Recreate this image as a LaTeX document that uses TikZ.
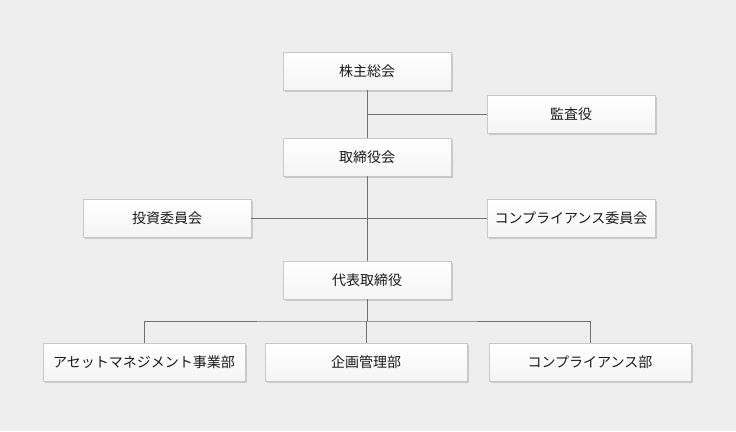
\documentclass[tikz,border=0pt]{standalone}
\usepackage{fontspec}
\setmainfont{Noto Sans CJK JP}
\usetikzlibrary{shadows}
\definecolor{bgGray}{HTML}{EEEEEE}
\definecolor{boxLine}{HTML}{C8C8C8}
\definecolor{linkGray}{HTML}{707070}
\definecolor{txtGray}{HTML}{1A1A1A}

\begin{document}
\begin{tikzpicture}[x = 1pt, y = -1pt, font=\fontsize{14}{16}\selectfont]
	\tikzstyle{boxStyle}=[shape = rectangle, minimum width = 168pt, minimum height = 38pt, inner sep = 2pt, draw = boxLine, top color = white, bottom color = bgGray!60, text = txtGray, drop shadow = {shadow xshift = 1.5pt, shadow yshift = -1.5pt, fill = black!30, opacity = 0.6}]
	\tikzstyle{wideStyle}=[boxStyle, minimum width = 202pt]
	\tikzstyle{linkStyle}=[draw = linkGray, line width = 0.7pt]
	\fill[bgGray] (0,0) rectangle (736,431);
	\useasboundingbox (0,0) rectangle (736,431);
	\node[boxStyle] (kabunushi) at (367,71) {株主総会};
	\node[boxStyle] (kansa) at (571,114) {監査役};
	\node[boxStyle] (torikai) at (367,157) {取締役会};
	\node[boxStyle] (toshi) at (167,218) {投資委員会};
	\node[boxStyle] (compiin) at (571,218) {コンプライアンス委員会};
	\node[boxStyle] (daihyo) at (367,280) {代表取締役};
	\node[wideStyle] (asset) at (144,362) {アセットマネジメント事業部};
	\node[wideStyle] (kikaku) at (366,362) {企画管理部};
	\node[wideStyle] (compbu) at (590,362) {コンプライアンス部};
	\coordinate (bus) at (367,321);
	\draw[linkStyle] (kabunushi) -- (torikai);
	\draw[linkStyle] (kansa) -- (kansa -| kabunushi);
	\draw[linkStyle] (torikai) -- (daihyo);
	\draw[linkStyle] (toshi) -- (compiin);
	\draw[linkStyle] (daihyo) -- (bus);
	\draw[linkStyle] (asset) |- (bus) -| (compbu);
	\draw[linkStyle] (bus -| kikaku) -- (kikaku);
\end{tikzpicture}
\end{document}
